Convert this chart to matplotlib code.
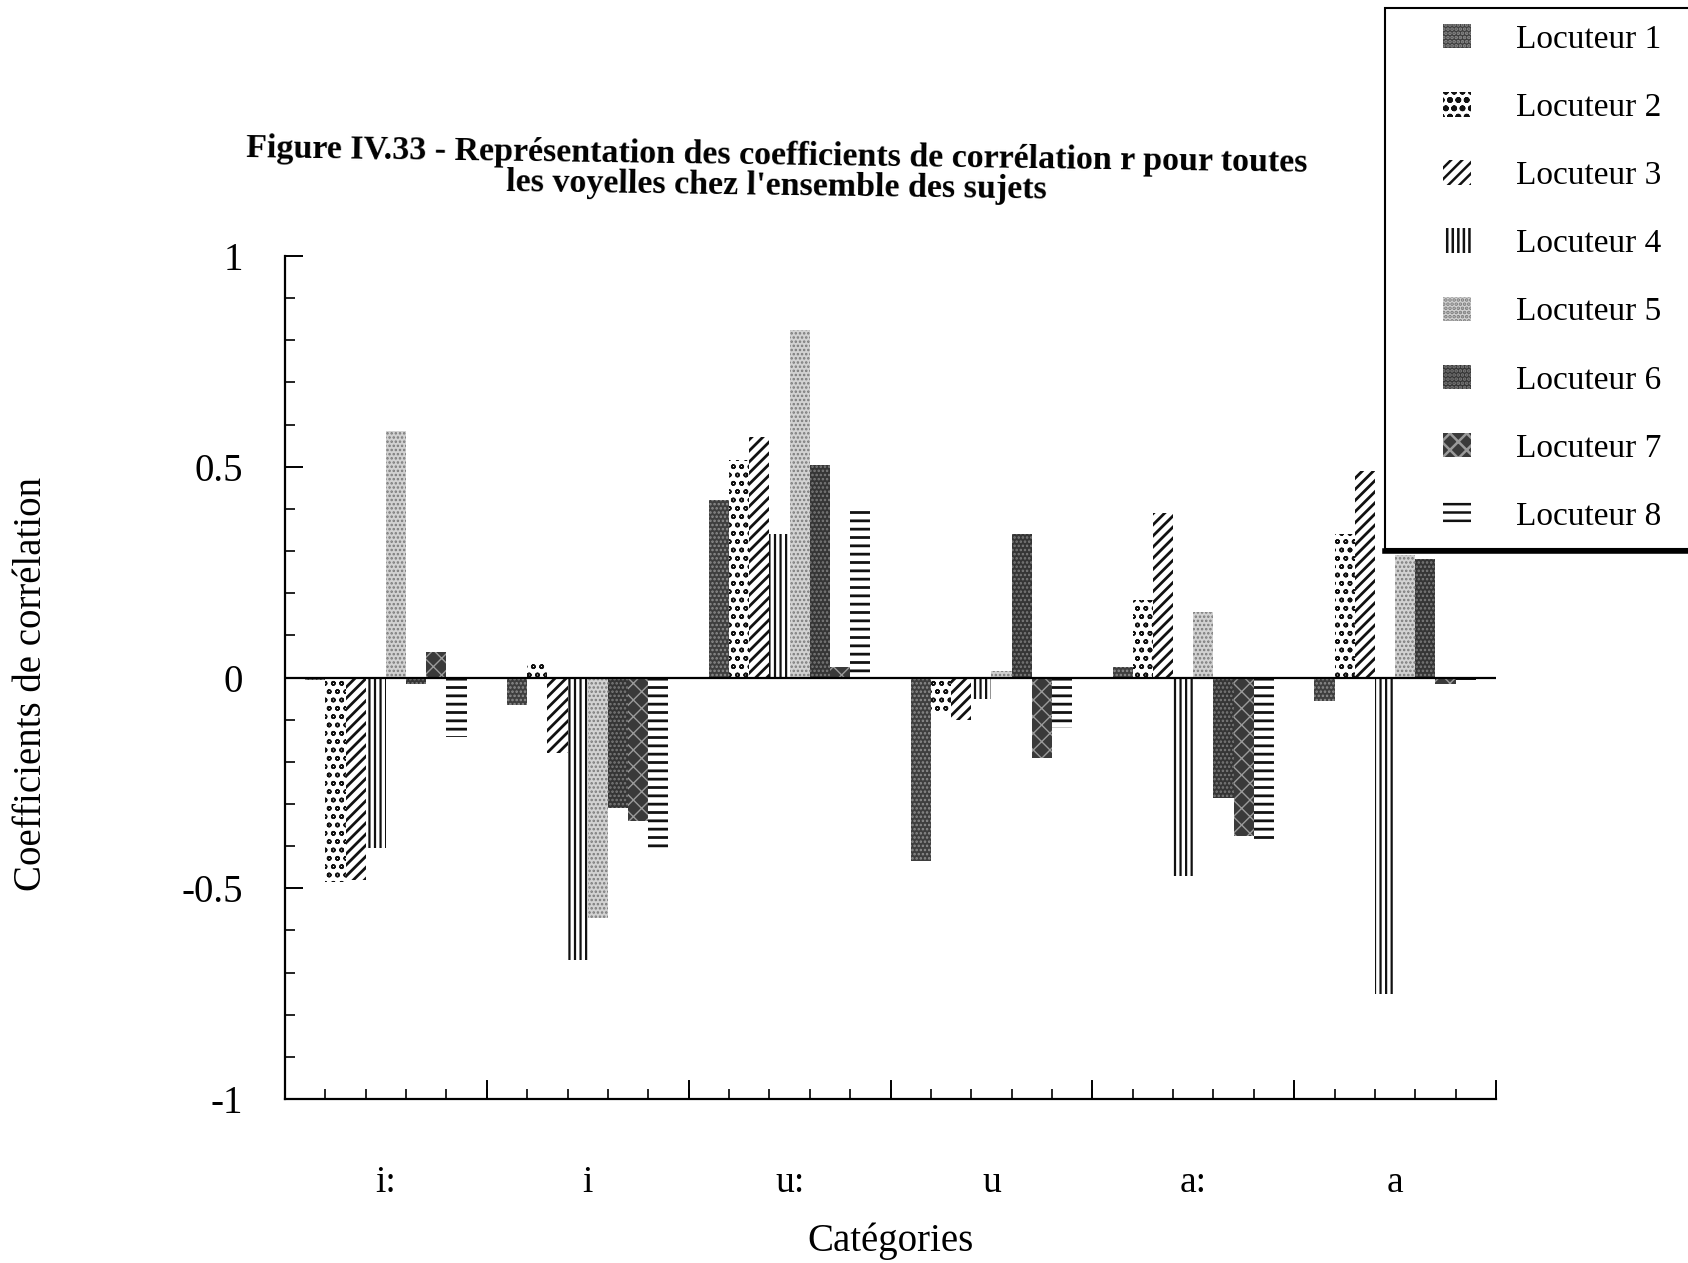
import matplotlib
matplotlib.use("Agg")
import matplotlib.pyplot as plt
from matplotlib.patches import Rectangle
from matplotlib.lines import Line2D
from matplotlib.ticker import MultipleLocator, FixedLocator

plt.rcParams['font.family'] = ['Liberation Serif', 'DejaVu Serif']
plt.rcParams['hatch.linewidth'] = 1.8

vowels = ['i:', 'i', 'u:', 'u', 'a:', 'a']
speakers = ['Locuteur 1', 'Locuteur 2', 'Locuteur 3', 'Locuteur 4',
            'Locuteur 5', 'Locuteur 6', 'Locuteur 7', 'Locuteur 8']

loc1 = [-0.005, -0.065, 0.42, -0.435, 0.025, -0.055]
loc2 = [-0.485, 0.04, 0.515, -0.085, 0.185, 0.34]
loc3 = [-0.48, -0.18, 0.57, -0.10, 0.39, 0.49]
loc4 = [-0.405, -0.67, 0.34, -0.05, -0.47, -0.75]
loc5 = [0.585, -0.57, 0.825, 0.015, 0.155, 0.29]
loc6 = [-0.015, -0.31, 0.505, 0.34, -0.285, 0.28]
loc7 = [0.06, -0.34, 0.025, -0.19, -0.375, -0.015]
loc8 = [-0.14, -0.41, 0.40, -0.12, -0.385, -0.005]
series = [loc1, loc2, loc3, loc4, loc5, loc6, loc7, loc8]

styles = [
    dict(facecolor='#3e3e3e', edgecolor='#8e8e8e', hatch='....'),
    dict(facecolor='white', edgecolor='#111111', hatch='oo'),
    dict(facecolor='white', edgecolor='#111111', hatch='///'),
    dict(facecolor='white', edgecolor='#111111', hatch='|||'),
    dict(facecolor='#d2d2d2', edgecolor='#7a7a7a', hatch='....'),
    dict(facecolor='#353535', edgecolor='#7c7c7c', hatch='....'),
    dict(facecolor='#3a3a3a', edgecolor='#9a9a9a', hatch='xx'),
    dict(facecolor='white', edgecolor='#111111', hatch='--'),
]
hatch_lw = [1.2, 1.1, 2.0, 1.6, 1.2, 1.2, 1.0, 2.0]

W, H = 1688, 1263
fig = plt.figure(figsize=(W / 100, H / 100), dpi=100)
ax = fig.add_axes([285 / W, 1 - 1099 / H, (1496 - 285) / W, (1099 - 256) / H])

bw = 0.1
handles = []
for k, (vals, st) in enumerate(zip(series, styles)):
    xs = [g + 0.1 + bw * k + bw / 2 for g in range(len(vowels))]
    with plt.rc_context({'hatch.linewidth': hatch_lw[k]}):
        b = ax.bar(xs, vals, width=bw, linewidth=0, label=speakers[k], **st)
    handles.append(b)

ax.axhline(0, color='black', lw=1.6, zorder=3)

ax.set_xlim(0, len(vowels))
ax.set_ylim(-1, 1)
for s in ['top', 'right']:
    ax.spines[s].set_visible(False)
for s in ['left', 'bottom']:
    ax.spines[s].set_linewidth(1.6)

# y ticks
ax.yaxis.set_major_locator(FixedLocator([-1, -0.5, 0, 0.5, 1]))
ax.set_yticklabels(['-1', '-0.5', '0', '0.5', '1'])
ax.yaxis.set_minor_locator(MultipleLocator(0.1))
ax.tick_params(axis='y', which='major', direction='in', length=13, width=1.4,
               pad=30, labelsize=28)
ax.tick_params(axis='y', which='minor', direction='in', length=7, width=1.2)

# x ticks: boundaries drawn as long ticks, subdivisions as minor, labels at centres
ax.xaxis.set_major_locator(FixedLocator([g + 0.5 for g in range(len(vowels))]))
ax.set_xticklabels(vowels)
ax.xaxis.set_minor_locator(MultipleLocator(0.2))
ax.tick_params(axis='x', which='major', length=0, pad=48, labelsize=27)
ax.tick_params(axis='x', which='minor', direction='in', length=7, width=1.2)
for g in range(len(vowels) + 1):
    ax.plot([g, g], [0, 0.021], transform=ax.get_xaxis_transform(),
            color='black', lw=1.4, clip_on=False)

ax.set_xlabel('Catégories', fontsize=28, labelpad=16)
fig.text(32 / W, 1 - 684 / H, 'Coefficients de corrélation', rotation=90,
         ha='center', va='center', fontsize=28)

# title
fig.text(777 / W, 1 - 171 / H,
         "Figure IV.33 - Représentation des coefficients de corrélation r pour toutes\n"
         "les voyelles chez l'ensemble des sujets",
         ha='center', va='center', multialignment='center', fontsize=24.5,
         fontweight='bold', linespacing=1.0,
         rotation=-0.8, rotation_mode='anchor')

# legend
leg = fig.legend(handles=handles, labels=speakers, loc='upper left',
                 bbox_to_anchor=(1443 / W, 1 - 24 / H), frameon=False,
                 fontsize=24, handlelength=0.85, handleheight=0.75,
                 handletextpad=1.35, labelspacing=1.12, borderpad=0,
                 borderaxespad=0)
fig.add_artist(Rectangle((1385 / W, 1 - 549 / H), (W + 10 - 1385) / W,
                         (549 - 8) / H, transform=fig.transFigure,
                         fill=False, edgecolor='black', lw=1.5))
fig.add_artist(Line2D([1385 / W, 1.0], [1 - 551 / H, 1 - 551 / H],
                      transform=fig.transFigure, color='black', lw=4))

fig.savefig('out.png', dpi=100)
